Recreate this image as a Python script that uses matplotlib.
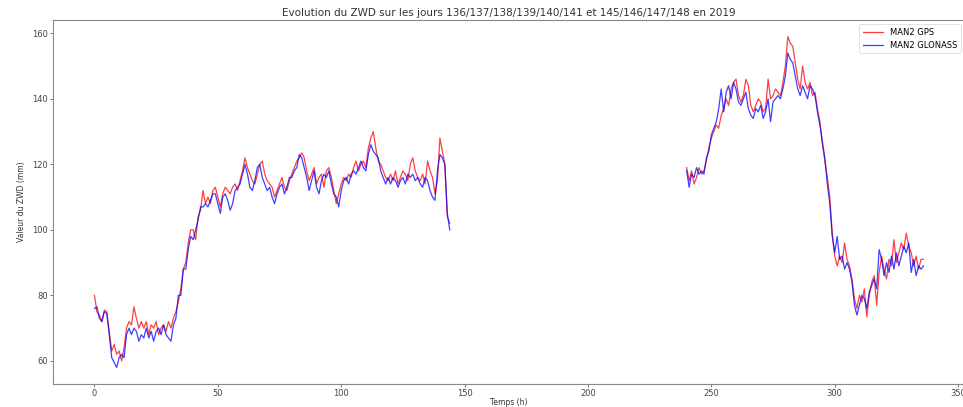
import numpy as np
import matplotlib
matplotlib.use("Agg")
import matplotlib.pyplot as plt

# Part 1 : hours 0..144, Part 2 : hours 240..336 (hourly readings)
start1 = 0
start2 = 240

gps_1 = [80, 75, 74, 72, 75.5, 75, 69, 63, 65, 62,
         63, 60, 64, 70, 72, 71, 76.5, 73, 70, 72,
         70, 72, 68, 71, 70, 72, 68, 70, 71, 69,
         72, 70, 73, 75, 78, 82, 88, 90, 96, 100,
         100, 97, 104, 106, 112, 108, 110, 108, 112, 113,
         110, 107, 111, 113, 112, 111, 113, 114, 112, 115,
         118, 122, 119, 117, 115, 114, 117, 120, 121, 117,
         115, 114, 113, 110, 112, 114, 116, 113, 112, 115,
         117, 119, 121, 122, 123.5, 122, 118, 115, 117, 119,
         114, 116, 117, 113, 118, 119, 116, 112, 108, 111,
         114, 116, 115, 117, 116, 119, 121, 118, 120, 121,
         119, 125, 128, 130, 125, 121, 120, 118, 116, 115,
         117, 115, 118, 114, 116, 118, 117, 115, 120, 122,
         118, 116, 115, 117, 114, 121, 118, 116, 111, 115,
         128, 124, 120, 104, 102]

glonass_1 = [76, 76.5, 73, 72, 75, 74.5, 68, 61, 59.5, 58,
             61, 62, 61, 68, 70, 68, 70, 69, 66, 68,
             67, 70, 67, 69, 66, 69, 70, 68, 71, 68,
             67, 66, 71, 73, 80, 80, 88, 88, 94, 98,
             97, 100, 103, 107, 107, 108, 107, 109, 111, 111,
             108, 105, 110, 111, 109, 106, 108, 112, 113, 114,
             117, 120, 117, 113, 112, 115, 119, 120, 116, 114,
             112, 113, 110, 108, 111, 113, 114, 111, 113, 116,
             116, 118, 119, 123, 122, 119, 116, 112, 115, 118,
             113, 111, 115, 117, 116, 118, 114, 111, 110, 107,
             112, 115, 116, 114, 117, 118, 117, 119, 121, 119,
             118, 123, 126, 124, 123, 122, 118, 116, 114, 116,
             114, 116, 115, 113, 115, 116, 114, 117, 116, 117,
             115, 116, 114, 113, 116, 115, 112, 110, 109, 118,
             123, 122, 120, 105, 100]

gps_2 = [119, 115, 118, 114, 116, 119, 117, 118, 121, 125,
         128, 130, 132, 131, 135, 137, 140, 138, 143, 145,
         146, 141, 139, 141, 146, 144, 138, 136, 138, 140,
         139, 136, 137, 146, 140, 141, 143, 142, 141, 145,
         150, 159, 157, 156, 151, 146, 143, 150, 145, 143,
         145, 141, 142, 137, 133, 126, 121, 116, 110, 99,
         92, 89, 92, 90, 96, 91, 89, 85, 79, 76,
         80, 78, 82, 73.5, 80, 84, 86, 77, 87, 92,
         88, 85, 91, 89, 97, 90, 93, 96, 94, 99,
         95, 93, 89, 92, 88, 91, 91]

glonass_2 = [118, 113, 117, 116, 119, 117, 118, 117, 122, 124,
             129, 131, 133, 137, 143, 136, 142, 144, 140, 145,
             143, 139, 138, 140, 142, 137, 135, 134, 137, 136,
             138, 134, 136, 140, 133, 139, 140, 141, 140, 143,
             147, 154, 152, 151, 147, 143, 141, 144, 142, 140,
             144, 143, 141, 136, 132, 127, 122, 114, 108, 98,
             93, 98, 91, 92, 88, 90, 88, 84, 77, 74,
             77, 80, 79, 76, 81, 83, 85, 82, 94, 91,
             86, 90, 87, 92, 88, 93, 89, 92, 95, 93,
             96, 87, 91, 86, 89, 88, 89]

title = "Evolution du ZWD sur les jours 136/137/138/139/140/141 et 145/146/147/148 en 2019"
xlabel = "Temps (h)"
ylabel = "Valeur du ZWD (mm)"
labels = ["MAN2 GPS", "MAN2 GLONASS"]

def series(part1, part2):
    t1 = start1 + np.arange(len(part1))
    t2 = start2 + np.arange(len(part2))
    t = np.concatenate([t1, [np.nan], t2])
    v = np.concatenate([part1, [np.nan], part2])
    return t, v

fig = plt.figure(figsize=(9.63, 4.07), dpi=100)
ax = fig.add_axes([53 / 963, 23 / 407, 912 / 963, 364 / 407])

t, v = series(gps_1, gps_2)
ax.plot(t, v, color="red", alpha=0.75, lw=0.9, label=labels[0])
t, v = series(glonass_1, glonass_2)
ax.plot(t, v, color="blue", alpha=0.75, lw=0.9, label=labels[1])

ax.set_xticks([0, 50, 100, 150, 200, 250, 300, 350])
ax.set_yticks([60, 80, 100, 120, 140, 160])
ax.tick_params(labelsize=6, length=2.2, width=0.5, colors="#444444", pad=1.5)
for s in ax.spines.values():
    s.set_color("#888888")
    s.set_linewidth(0.8)

ax.set_title(title, fontsize=7.5, color="#333333", pad=3)
ax.set_xlabel(xlabel, fontsize=5.5, color="#333333", labelpad=0)
ax.set_ylabel(ylabel, fontsize=5.5, color="#333333", labelpad=4)
leg = ax.legend(loc="upper right", fontsize=6, frameon=True, handlelength=2.5)
leg.get_frame().set_linewidth(0.5)
leg.get_frame().set_edgecolor("#cccccc")

fig.savefig("out.png", dpi=100)
